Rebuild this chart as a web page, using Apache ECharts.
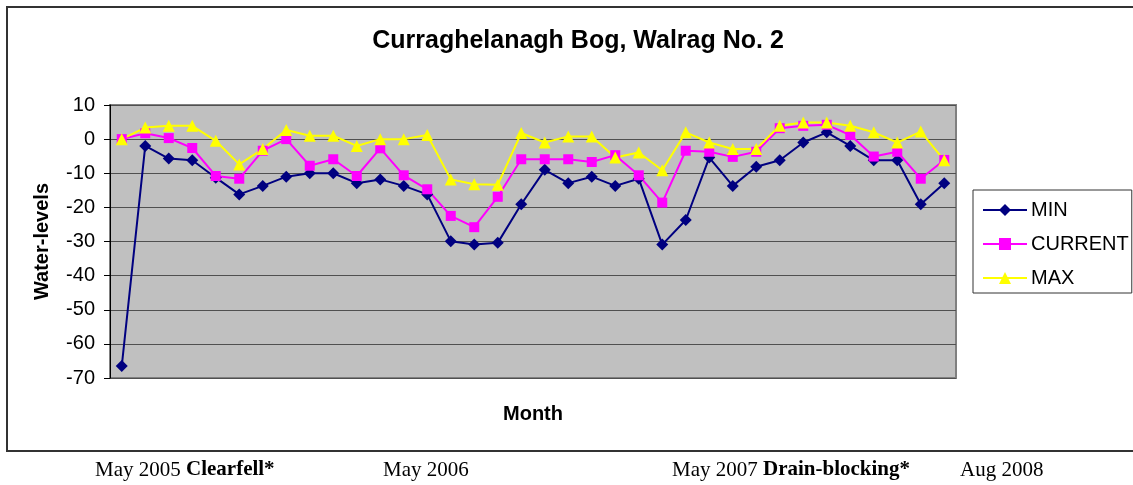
<!DOCTYPE html>
<html>
<head>
<meta charset="utf-8">
<title>Curraghelanagh Bog, Walrag No. 2</title>
<script src="https://cdn.jsdelivr.net/npm/echarts@6/dist/echarts.min.js"></script>
<style>
    html, body { margin: 0; padding: 0; background: #fff; }
    #main { width: 1133px; height: 485px; }
</style>
</head>
<body>
<div id="main"></div>
<script>
// 月份序号（共36次读数）
var months = [];
for (var m = 1; m <= 36; m++) { months.push(String(m)); }

// 水位数据
var minLevels = [-66.5, -2, -5.7, -6.2, -11.3, -16.2, -13.7, -11, -10, -10,
    -12.9, -11.8, -13.7, -16.2, -29.9, -30.9, -30.4, -19.1, -9, -12.9,
    -11, -13.7, -11.6, -30.9, -23.7, -5.4, -13.7, -8.1, -6.2, -1,
    2, -2, -6.2, -6.2, -19.1, -12.9];
var currentLevels = [0, 1.7, 0.3, -2.6, -10.8, -11.6, -3.4, 0, -7.8, -5.9,
    -10.8, -2.7, -10.6, -14.7, -22.5, -25.8, -16.9, -5.9, -5.9, -5.9,
    -6.7, -4.7, -10.6, -18.6, -3.4, -3.7, -5.2, -3.7, 3.2, 3.9,
    4.2, 1.2, -5.1, -3.7, -11.6, -6.1];
var maxLevels = [0, 3.4, 3.9, 3.9, -0.5, -7.4, -2.9, 2.7, 1, 1,
    -2, 0, 0, 1.2, -11.8, -13.2, -13.4, 1.8, -1, 0.8,
    0.8, -5.4, -3.9, -9.1, 2, -1, -2.9, -2.9, 3.9, 4.9,
    4.9, 3.9, 2, -1, 2.2, -6.2];

// 图表下方的注释
var notes = [
    { x: 95, date: 'May 2005 ', event: 'Clearfell*' },
    { x: 383, date: 'May 2006', event: '' },
    { x: 672, date: 'May 2007 ', event: 'Drain-blocking*' },
    { x: 960, date: 'Aug 2008', event: '' }
];

var font = 'Arial, "Liberation Sans", sans-serif';
var serif = '"Times New Roman", "Liberation Serif", serif';

var myChart = echarts.init(document.getElementById('main'));

var graphics = [{
    type: 'rect',
    shape: { x: 7, y: 7, width: 1140, height: 444 },
    style: { fill: 'none', stroke: '#333', lineWidth: 2 },
    silent: true
}, {
    type: 'text',
    x: 578,
    y: 41,
    style: {
        text: 'Curraghelanagh Bog, Walrag No. 2',
        font: 'bold 25px ' + font,
        fill: '#000',
        align: 'center',
        verticalAlign: 'middle'
    }
}];
for (var i = 0; i < notes.length; i++) {
    graphics.push({
        type: 'text',
        x: notes[i].x,
        y: 470,
        style: {
            text: '{d|' + notes[i].date + '}' + (notes[i].event ? '{b|' + notes[i].event + '}' : ''),
            verticalAlign: 'middle',
            rich: {
                d: { fontFamily: serif, fontSize: 21, fill: '#000' },
                b: { fontFamily: serif, fontSize: 21, fontWeight: 'bold', fill: '#000' }
            }
        }
    });
}

var option = {
    animation: false,
    backgroundColor: '#fff',
    textStyle: { fontFamily: font },
    graphic: graphics,
    legend: {
        orient: 'vertical',
        left: 973,
        top: 190,
        padding: [10, 3, 5, 9],
        borderColor: '#333',
        borderWidth: 1,
        itemWidth: 44,
        itemHeight: 15,
        itemGap: 14,
        textStyle: { fontSize: 20, color: '#000', fontFamily: font, padding: [0, 0, 0, -1] },
        data: ['MIN', 'CURRENT', 'MAX']
    },
    grid: {
        show: true,
        left: 110,
        top: 105,
        width: 846,
        height: 273,
        backgroundColor: '#C0C0C0',
        borderColor: '#808080',
        borderWidth: 2
    },
    xAxis: {
        type: 'category',
        data: months,
        boundaryGap: true,
        name: 'Month',
        nameLocation: 'middle',
        nameGap: 26,
        nameTextStyle: { fontSize: 20, fontWeight: 'bold', color: '#000' },
        axisLine: { show: false },
        axisTick: { show: false },
        axisLabel: { show: false },
        splitLine: { show: false }
    },
    yAxis: {
        type: 'value',
        min: -70,
        max: 10,
        interval: 10,
        name: 'Water-levels',
        nameLocation: 'middle',
        nameRotate: 90,
        nameGap: 58,
        nameTextStyle: { fontSize: 20, fontWeight: 'bold', color: '#000' },
        axisLine: { show: true, lineStyle: { color: '#000', width: 1 } },
        axisTick: { show: true, inside: false, length: 6, lineStyle: { color: '#000' } },
        axisLabel: { fontSize: 20, color: '#000', margin: 15 },
        splitLine: { show: true, lineStyle: { color: '#505050', width: 1 } }
    },
    series: [
        {
            name: 'MIN',
            type: 'line',
            data: minLevels,
            symbol: 'diamond',
            symbolSize: 12,
            itemStyle: { color: '#000080' },
            lineStyle: { color: '#000080', width: 2 }
        }, {
            name: 'CURRENT',
            type: 'line',
            data: currentLevels,
            symbol: 'rect',
            symbolSize: 10,
            itemStyle: { color: '#FF00FF' },
            lineStyle: { color: '#FF00FF', width: 2 }
        }, {
            name: 'MAX',
            type: 'line',
            data: maxLevels,
            symbol: 'triangle',
            symbolSize: 12,
            itemStyle: { color: '#FFFF00' },
            lineStyle: { color: '#FFFF00', width: 2 }
        }]
};
myChart.setOption(option);
</script>
</body>
</html>
